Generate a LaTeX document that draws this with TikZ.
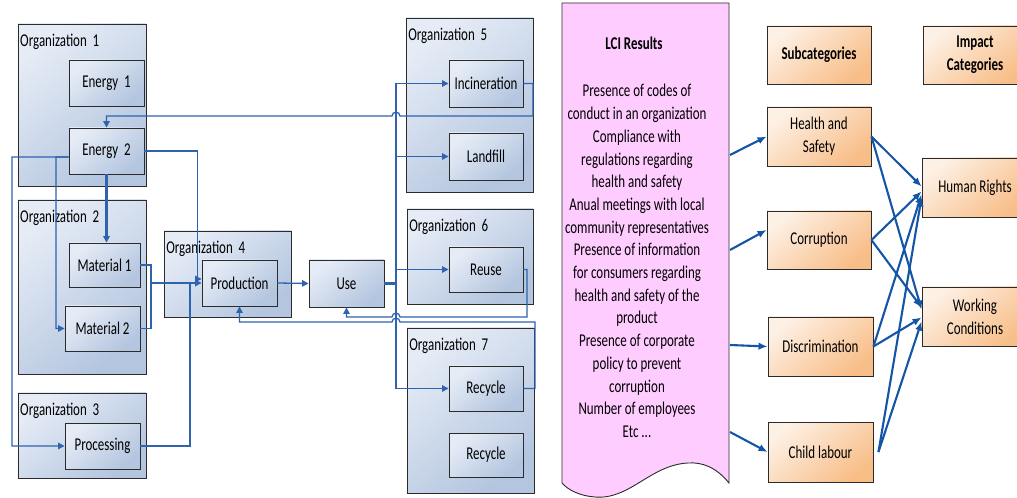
\documentclass[tikz,border=0pt]{standalone}
\usepackage{fontspec}
\setmainfont{Carlito}[FakeStretch=0.72]
\usetikzlibrary{arrows.meta,shadows}

\definecolor{orgtop}{HTML}{E6ECF6}
\definecolor{orgbot}{HTML}{B3C5DF}
\definecolor{flow}{HTML}{2E63AD}
\definecolor{link}{HTML}{1456A5}
\definecolor{scrollfill}{HTML}{FFCCFF}
\definecolor{peachlight}{HTML}{FDF0E4}
\definecolor{peach}{HTML}{F8BE88}
\definecolor{edge}{HTML}{2B2B2B}

\tikzset{
  txt/.style={font=\fontsize{18bp}{22.7bp}\selectfont, align=center},
  boxbase/.style={draw=edge, line width=0.9bp, inner sep=0pt, txt,
    drop shadow={shadow xshift=1.3bp, shadow yshift=-1.3bp, opacity=0.25, fill=black}},
  orgbox/.style={boxbase, top color=orgtop, bottom color=orgbot, shading angle=40},
  procbox/.style={boxbase, top color=orgtop, bottom color=orgbot, shading angle=40},
  peachbox/.style={boxbase, top color=peachlight, bottom color=peach, shading angle=40},
  orglabel/.style={txt, anchor=base west, inner sep=0pt},
  flow/.style={draw=flow, line width=1.3bp},
  flowbold/.style={draw=flow, line width=2.4bp},
  fl/.style={-{Triangle[length=6.5bp,width=6.5bp]}},
  linkarrow/.style={draw=link, line width=2.1bp, -{Latex[length=9bp,width=7.5bp]}}
}

\begin{document}
\begin{tikzpicture}[x=1bp,y=-1bp]
\useasboundingbox (0,0) rectangle (1017,498);
\fill[white] (0,0) rectangle (1017,498);

% organisation frames
\node[orgbox, minimum width=128bp, minimum height=162bp] (o1) at (82,105) {};
\node[orgbox, minimum width=128bp, minimum height=174bp] (o2) at (82,287) {};
\node[orgbox, minimum width=128bp, minimum height=85bp]  (o3) at (82,435.5) {};
\node[orgbox, minimum width=127bp, minimum height=86bp]  (o4) at (227.5,274) {};
\node[orgbox, minimum width=127bp, minimum height=174bp] (o5) at (469.5,105) {};
\node[orgbox, minimum width=126bp, minimum height=95bp]  (o6) at (470,256.5) {};
\node[orgbox, minimum width=127bp, minimum height=165bp] (o7) at (470.5,410.5) {};

\foreach \o/\n in {o1/1,o2/2,o3/3,o4/4,o5/5,o6/6,o7/7}
  \node[orglabel] (\o t) at ([xshift=2.5bp,yshift=-22.5bp]\o.north west) {Organization\ \ \n};

% process boxes
\node[procbox, minimum width=75bp, minimum height=46bp] (e1) at (106.5,83) {Energy\ \ 1};
\node[procbox, minimum width=75bp, minimum height=46bp] (e2) at (106.5,151) {Energy\ \ 2};
\node[procbox, minimum width=71bp, minimum height=44bp] (m1) at (104.5,265) {Material 1};
\node[procbox, minimum width=75bp, minimum height=45bp] (m2) at (102.5,328.5) {Material 2};
\node[procbox, minimum width=75bp, minimum height=46bp] (proc) at (102.5,446) {Processing};
\node[procbox, minimum width=75bp, minimum height=46bp] (prod) at (239.5,283) {Production};
\node[procbox, minimum width=75bp, minimum height=47bp] (use) at (346.5,283.5) {Use};
\node[procbox, minimum width=74bp, minimum height=47bp] (inc) at (486,83.5) {Incineration};
\node[procbox, minimum width=74bp, minimum height=47bp] (lf) at (486,156.5) {Landfill};
\node[procbox, minimum width=74bp, minimum height=45bp] (reuse) at (486,269.5) {Reuse};
\node[procbox, minimum width=74bp, minimum height=45bp] (rec1) at (486,388.5) {Recycle};
\node[procbox, minimum width=74bp, minimum height=44bp] (rec2) at (486,455) {Recycle};

% junction points
\coordinate (mj) at (151,283);
\coordinate (ub) at (396,283.5);

% flows
\draw[flow,fl] (inc.east) -- (533,83.5) -- (533,116) -- (400,116)
  .. controls (400,111) and (392,111) .. (392,116) -- (e2.north |- 0,116) -- (e2.north);
\draw[flow,fl] (e2.east) -| ([xshift=-4bp,yshift=4bp]prod.west) -- ([yshift=4bp]prod.west);
\draw[flowbold,fl] (e2.south) -- (e2.south |- m1.north);
\draw[flow,fl] ([yshift=-6bp]e2.west) -- (56,157) |- (m2.west);
\draw[flow,fl] ([yshift=-6bp]e2.west) -- (12,157) |- (proc.west);
\draw[flow] (m1.east) -- (151,265) |- (m2.east);
\draw[flow] (proc.east) -| (190,283);
\draw[flowbold,fl] (mj) -- (prod.west);
\draw[flow,fl] (prod.east) -- (use.west);
\draw[flowbold] (use.east) -- (ub);
\draw[flow,fl] (ub) |- (inc.west);
\draw[flow,fl] (ub) |- (lf.west);
\draw[flow,fl] (ub) |- (reuse.west);
\draw[flow,fl] (ub) |- (rec1.west);
\draw[flow,fl] (reuse.east) -- (527,269.5) -- (527,317) -- (400,317)
  .. controls (400,312) and (392,312) .. (392,317) -| (use.south);
\draw[flow,fl] (rec1.east) -- (535,388.5) -- (535,322) -- (400,322)
  .. controls (400,317) and (392,317) .. (392,322) -| (prod.south);

% LCI results sheet
\draw[edge, line width=0.9bp, fill=scrollfill] (562,3) -- (729,3) -- (729,483)
  .. controls (716,467) and (702,462) .. (688,463)
  .. controls (650,465) and (630,500) .. (595,497)
  .. controls (580,496) and (568,490) .. (562,483) -- cycle;
\node[txt, font=\fontsize{18bp}{22.7bp}\selectfont\bfseries] (lcit) at (634,43) {LCI Results};
\node[txt] (lci) at (637,261) {Presence of codes of\\conduct in an organization\\Compliance with\\
  regulations regarding\\health and safety\\Anual meetings with local\\community representatives\\
  Presence of information\\for consumers regarding\\health and safety of the\\product\\
  Presence of corporate\\policy to prevent\\corruption\\Number of employees\\Etc ...};
\coordinate (s1) at (730,155);
\coordinate (s2) at (730,250);
\coordinate (s3) at (730,345);
\coordinate (s4) at (730,432);

% categories (the right-hand column runs past the page edge)
\node[peachbox, minimum width=104bp, minimum height=58bp, font=\fontsize{18bp}{22.7bp}\selectfont\bfseries] (sub) at (819,55) {Subcategories};
\node[peachbox, minimum width=104bp, minimum height=58bp, font=\fontsize{18bp}{22.7bp}\selectfont\bfseries] (imp) at (975,55) {Impact\\Categories};
\node[peachbox, minimum width=104bp, minimum height=59bp] (hs) at (819,136.5) {Health and\\Safety};
\node[peachbox, minimum width=104bp, minimum height=58bp] (cor) at (819,240) {Corruption};
\node[peachbox, minimum width=105bp, minimum height=59bp] (dis) at (820.5,346.5) {Discrimination};
\node[peachbox, minimum width=105bp, minimum height=60bp] (child) at (820.5,452) {Child labour};
\node[peachbox, minimum width=106bp, minimum height=59bp] (hr) at (975,187.5) {Human Rights};
\node[peachbox, minimum width=106bp, minimum height=59bp] (wc) at (975,316.5) {Working\\Conditions};

% links
\draw[linkarrow] (s1) -- (hs.west);
\draw[linkarrow] (s2) -- ([yshift=10bp]cor.west);
\draw[linkarrow] (s3) -- (dis.west);
\draw[linkarrow] (s4) -- (child.west);

\draw[linkarrow] (hs.east) -- ([yshift=1bp]hr.west);
\draw[linkarrow] (hs.east) -- ([yshift=7bp]wc.west);
\draw[linkarrow] (cor.east) -- ([yshift=-4bp]hr.west);
\draw[linkarrow] (cor.east) -- ([yshift=9bp]wc.west);
\draw[linkarrow] (dis.east) -- ([yshift=-7bp]hr.west);
\draw[linkarrow] (dis.east) -- ([yshift=-1bp]wc.west);
\draw[linkarrow] ([xshift=5bp]child.east) -- ([yshift=-10bp]hr.west);
\draw[linkarrow] ([xshift=5bp]child.east) -- ([yshift=-5bp]wc.west);
\end{tikzpicture}
\end{document}
